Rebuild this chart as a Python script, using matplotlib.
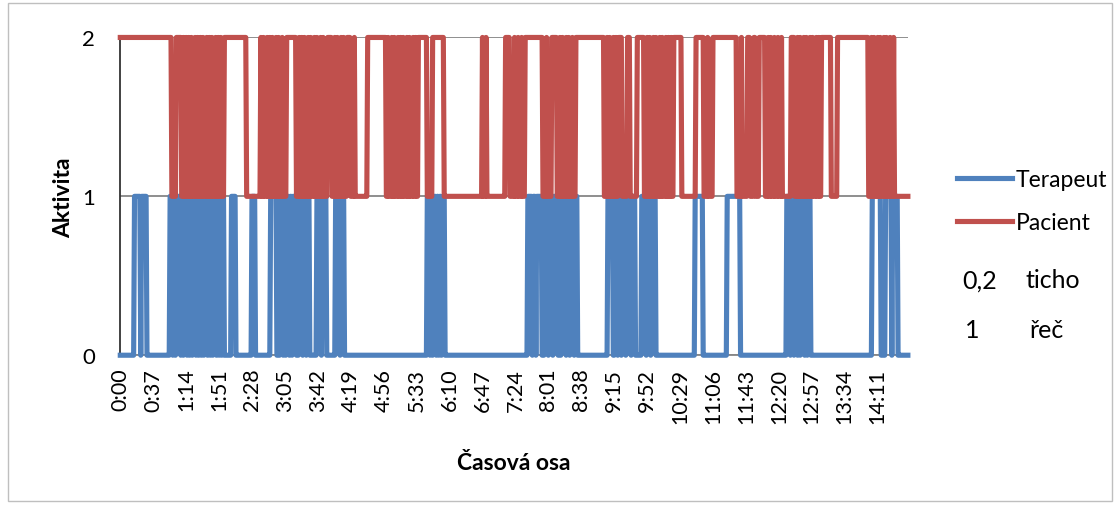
import numpy as np
import matplotlib; matplotlib.use("Agg")
import matplotlib.pyplot as plt
from matplotlib.patches import Rectangle

plt.rcParams['font.family'] = ['Lato', 'DejaVu Sans']
plt.rcParams['path.simplify'] = False

# one sample per second, values (start, end in s)
N = 886
T_ON = [(16, 22), (24, 29),
        (56, 58), (60, 61), (63, 65), (66, 67), (69, 70), (72, 74), (76, 77), (79, 80), (82, 84),
        (86, 87), (89, 90), (92, 93), (95, 97), (99, 100), (102, 103), (105, 107), (109, 110),
        (112, 113), (115, 116),
        (125, 129), (148, 151), (169, 175),
        (180, 182), (184, 185), (187, 189), (191, 192), (194, 197),
        (201, 204), (206, 208), (210, 212),
        (221, 225), (227, 231),
        (242, 246), (248, 251),
        (345, 347), (349, 350), (352, 354), (356, 357), (359, 360), (362, 364),
        (458, 462), (464, 466), (468, 473),
        (477, 480), (482, 485), (487, 491),
        (496, 500), (502, 504), (506, 509), (511, 513),
        (548, 553), (556, 558), (560, 562), (564, 567), (569, 573), (575, 578),
        (586, 590), (592, 595), (597, 601),
        (646, 654),
        (682, 696),
        (749, 752), (754, 756), (758, 760), (762, 763), (765, 768), (770, 771), (773, 775),
        (845, 854),
        (860, 866), (868, 873)]
P_ON = [(58, 62),
        (69, 70), (72, 73), (75, 76), (78, 79), (81, 83), (85, 86), (88, 89), (91, 92), (94, 96),
        (98, 99), (101, 102), (104, 106), (108, 109), (111, 112), (114, 116),
        (142, 157),
        (159, 160), (162, 164), (166, 167), (169, 170), (172, 174), (176, 177), (179, 181), (183, 186),
        (198, 200), (202, 203), (205, 206), (208, 210), (212, 213), (215, 217), (219, 220),
        (222, 224), (226, 227), (229, 232),
        (238, 240), (242, 243), (245, 247), (249, 250), (252, 254),
        (259, 262), (264, 277),
        (299, 300), (302, 304), (306, 307), (309, 311), (313, 314), (316, 317), (319, 321),
        (323, 324), (326, 328), (330, 331), (333, 334),
        (345, 350),
        (364, 406), (408, 410), (412, 432), (438, 442), (444, 446), (448, 450), (452, 454),
        (475, 478), (480, 484),
        (491, 493), (495, 496), (498, 500), (502, 503), (505, 507), (509, 511),
        (544, 546), (548, 549), (551, 553), (555, 556), (558, 559),
        (564, 569), (573, 580),
        (589, 591), (593, 594), (596, 598), (600, 601), (603, 605), (607, 608), (610, 612),
        (614, 615), (617, 618), (620, 621),
        (631, 646),
        (656, 659), (661, 665),
        (693, 697), (699, 704),
        (708, 711), (714, 717),
        (725, 727), (729, 730), (732, 734), (736, 738), (740, 742),
        (744, 753),
        (758, 760), (762, 763), (765, 767), (769, 770), (772, 774), (776, 777), (779, 781),
        (783, 784), (786, 787),
        (799, 805),
        (841, 843), (845, 846), (848, 850), (852, 853), (855, 857), (859, 860), (862, 864),
        (866, 868),
        (870, 885)]
TICK_STEP = 37

x = np.arange(N)
ter = np.zeros(N)
for a, b in T_ON: ter[a:b + 1] = 1
pac = np.full(N, 2.0)
for a, b in P_ON: pac[a:b + 1] = 1

fig = plt.figure(figsize=(11.2, 5.06), dpi=100)
ax = fig.add_axes([0.107, 0.296, 0.704, 0.628])
ax.plot(x, ter, color="#4F81BD", lw=3.7, label="Terapeut", clip_on=False, zorder=3)
ax.plot(x, pac, color="#C0504D", lw=3.7, label="Pacient", clip_on=False, zorder=4)

ax.set_xlim(-0.5, N - 0.5); ax.set_ylim(0, 2)
ax.set_yticks([0, 1, 2]); ax.set_yticklabels(["0", "1", "2"], fontsize=16)
ticks = np.arange(0, N, TICK_STEP)
ax.set_xticks(ticks)
ax.set_xticklabels([f"{t // 60}:{t % 60:02d}" for t in ticks], rotation=90, fontsize=15.5)
ax.tick_params(axis="x", length=0, pad=9)
ax.tick_params(axis="y", length=0, pad=18)
ax.yaxis.grid(True, color="#868686", lw=1.3)
ax.set_axisbelow(True)
for s in ["top", "right"]: ax.spines[s].set_visible(False)
ax.spines["bottom"].set_color("#868686"); ax.spines["bottom"].set_linewidth(1.3)
ax.spines["left"].set_color("#333333"); ax.spines["left"].set_linewidth(1.3)
ax.set_ylabel("Aktivita", fontsize=16.5, fontweight="bold", labelpad=6)
ax.set_xlabel("Časová osa", fontsize=16.5, fontweight="bold", labelpad=21)

fig.legend(loc="upper left", bbox_to_anchor=(957 / 1120, 1 - 170 / 506), frameon=False, fontsize=16.5,
           handlelength=2.4, handletextpad=0.17, labelspacing=0.95, borderpad=0, borderaxespad=0)
fig.text(962 / 1120, 1 - 281 / 506, "0,2", fontsize=18, va="center")
fig.text(1025 / 1120, 1 - 281 / 506, "ticho", fontsize=18, va="center")
fig.text(965 / 1120, 1 - 331 / 506, "1", fontsize=18, va="center")
fig.text(1030 / 1120, 1 - 331 / 506, "řeč", fontsize=18, va="center")

fig.add_artist(Rectangle((0.007, 0.008), 0.986, 0.984, transform=fig.transFigure, fill=False,
                         ec="#bfbfbf", lw=1))
fig.savefig("out.png", dpi=100)
